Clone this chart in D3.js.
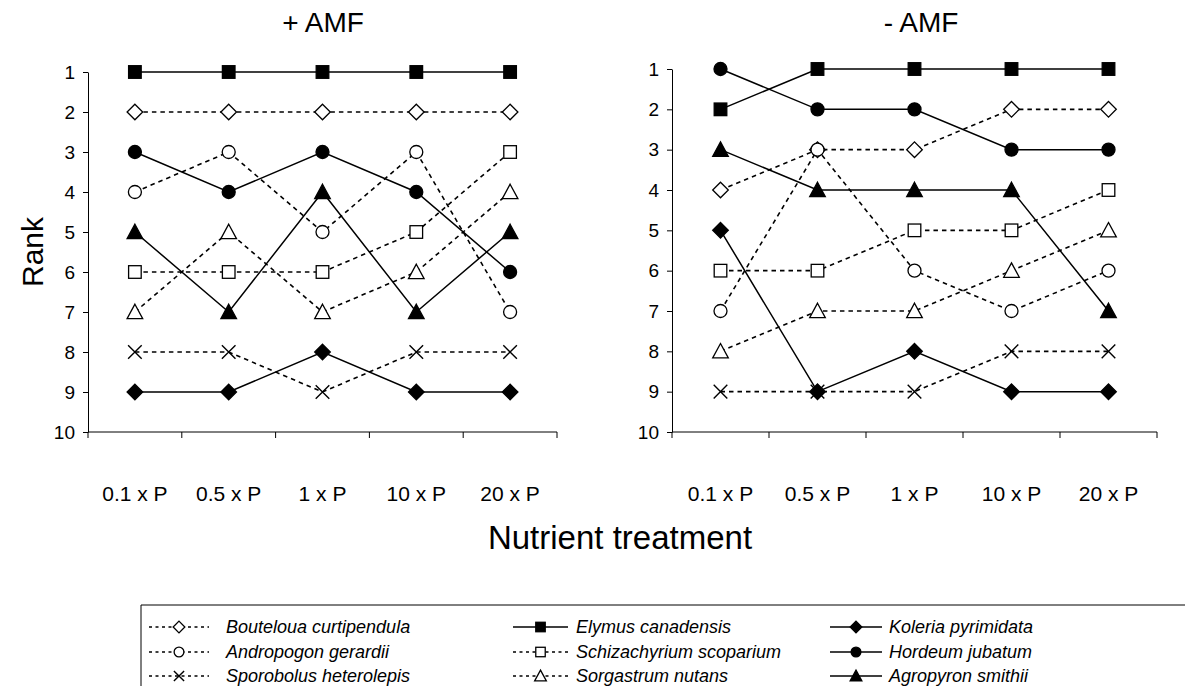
<!DOCTYPE html>
<html>
<head>
<meta charset="utf-8">
<script src="https://cdn.jsdelivr.net/npm/d3@7/dist/d3.min.js"></script>
<style>
  html, body { margin: 0; padding: 0; background: #fff; }
  svg { display: block; font-family: "Liberation Sans", Arial, sans-serif; }
</style>
</head>
<body>
<svg id="chart" width="1198" height="686"></svg>
<script>
// Nutrient treatments along the x axis
const categories = ["0.1 x P", "0.5 x P", "1 x P", "10 x P", "20 x P"];
const rankTicks = [1, 2, 3, 4, 5, 6, 7, 8, 9, 10];

// Species, in legend order (row by row)
const species = [
  "Bouteloua curtipendula", "Elymus canadensis", "Koleria pyrimidata",
  "Andropogon gerardii", "Schizachyrium scoparium", "Hordeum jubatum",
  "Sporobolus heterolepis", "Sorgastrum nutans", "Agropyron smithii"
];

// Rank of each species per treatment, with mycorrhizal fungi (+ AMF)
const ranksPlusAMF = [
  [2, 2, 2, 2, 2],
  [1, 1, 1, 1, 1],
  [9, 9, 8, 9, 9],
  [4, 3, 5, 3, 7],
  [6, 6, 6, 5, 3],
  [3, 4, 3, 4, 6],
  [8, 8, 9, 8, 8],
  [7, 5, 7, 6, 4],
  [5, 7, 4, 7, 5]
];

// Rank of each species per treatment, without mycorrhizal fungi (- AMF)
const ranksMinusAMF = [
  [4, 3, 3, 2, 2],
  [2, 1, 1, 1, 1],
  [5, 9, 8, 9, 9],
  [7, 3, 6, 7, 6],
  [6, 6, 5, 5, 4],
  [1, 2, 2, 3, 3],
  [9, 9, 9, 8, 8],
  [8, 7, 7, 6, 5],
  [3, 4, 4, 4, 7]
];

// Marker shape / fill and line style per species
const styleOf = {
  "Bouteloua curtipendula":  { shape: "diamond",  filled: false, dashed: true },
  "Elymus canadensis":       { shape: "square",   filled: true,  dashed: false },
  "Koleria pyrimidata":      { shape: "diamond",  filled: true,  dashed: false },
  "Andropogon gerardii":     { shape: "circle",   filled: false, dashed: true },
  "Schizachyrium scoparium": { shape: "square",   filled: false, dashed: true },
  "Hordeum jubatum":         { shape: "circle",   filled: true,  dashed: false },
  "Sporobolus heterolepis":  { shape: "cross",    filled: false, dashed: true },
  "Sorgastrum nutans":       { shape: "triangle", filled: false, dashed: true },
  "Agropyron smithii":       { shape: "triangle", filled: true,  dashed: false }
};

const svg = d3.select("#chart");

// Draws one marker centred at (0,0) inside group g
function drawMarker(g, name, scale) {
  const st = styleOf[name];
  const k = scale || 1;
  const fill = st.filled ? "#000" : "#fff";
  const sw = 1.3;
  if (st.shape === "square") {
    const s = 6.3 * k;
    g.append("rect").attr("x", -s).attr("y", -s).attr("width", 2 * s).attr("height", 2 * s)
      .attr("fill", fill).attr("stroke", "#000").attr("stroke-width", sw);
  } else if (st.shape === "diamond") {
    const s = 7.8 * k;
    g.append("path").attr("d", `M0,${-s}L${s},0L0,${s}L${-s},0Z`)
      .attr("fill", fill).attr("stroke", "#000").attr("stroke-width", sw);
  } else if (st.shape === "circle") {
    g.append("circle").attr("r", 6.5 * k)
      .attr("fill", fill).attr("stroke", "#000").attr("stroke-width", sw);
  } else if (st.shape === "triangle") {
    const s = 7.8 * k;
    g.append("path").attr("d", `M0,${-s}L${s},${s * 0.85}L${-s},${s * 0.85}Z`)
      .attr("fill", fill).attr("stroke", "#000").attr("stroke-width", sw);
  } else if (st.shape === "cross") {
    const s = 6.8 * k;
    g.append("path").attr("d", `M${-s},${-s}L${s},${s}M${-s},${s}L${s},${-s}`)
      .attr("fill", "none").attr("stroke", "#000").attr("stroke-width", 1.4);
  }
}

function panel(opts) {
  const { left, right, top, bottom, title, titleX, ranks, showRank } = opts;
  const x = d3.scaleBand().domain(categories).range([left, right]);
  const y = d3.scaleLinear().domain([1, 10]).range([top, bottom]);
  const g = svg.append("g");

  // Title
  g.append("text")
    .attr("x", titleX).attr("y", 32)
    .attr("text-anchor", "middle").attr("font-size", 28)
    .text(title);

  // Y axis (rank increases downward)
  const yAxis = d3.axisLeft(y).tickValues(rankTicks).tickSize(5).tickSizeOuter(0).tickPadding(8);
  const ya = g.append("g").attr("transform", `translate(${left},0)`).call(yAxis);
  ya.selectAll("text").attr("font-size", 19).attr("fill", "#000")
    .style("font-family", "'Liberation Sans', Arial, sans-serif");
  ya.selectAll("path, line").attr("stroke", "#000").attr("stroke-width", 1);

  // X axis: line along rank 10 with tick marks between categories
  const xa = g.append("g");
  xa.append("line").attr("x1", left).attr("x2", right).attr("y1", bottom).attr("y2", bottom)
    .attr("stroke", "#000");
  const edges = categories.map(c => x(c)).concat([x(categories[categories.length - 1]) + x.bandwidth()]);
  xa.selectAll("line.tick").data(edges).join("line")
    .attr("class", "tick")
    .attr("x1", d => d).attr("x2", d => d)
    .attr("y1", bottom).attr("y2", bottom + 6)
    .attr("stroke", "#000");
  xa.selectAll("text").data(categories).join("text")
    .attr("x", d => x(d) + x.bandwidth() / 2)
    .attr("y", bottom + 69)
    .attr("text-anchor", "middle").attr("font-size", 21)
    .text(d => d);

  if (showRank) {
    g.append("text")
      .attr("transform", `translate(${left - 45},${(top + bottom) / 2}) rotate(-90)`)
      .attr("text-anchor", "middle").attr("font-size", 30)
      .text("Rank");
  }

  const line = d3.line()
    .x((d, i) => x(categories[i]) + x.bandwidth() / 2)
    .y(d => y(d));

  // Series lines
  species.forEach((name, si) => {
    const st = styleOf[name];
    g.append("path")
      .datum(ranks[si])
      .attr("d", line)
      .attr("fill", "none")
      .attr("stroke", "#000")
      .attr("stroke-width", st.dashed ? 1.6 : 1.5)
      .attr("stroke-dasharray", st.dashed ? "4.5,4" : null);
  });

  // Markers on top
  species.forEach((name, si) => {
    ranks[si].forEach((r, i) => {
      const mg = g.append("g")
        .attr("transform", `translate(${x(categories[i]) + x.bandwidth() / 2},${y(r)})`);
      drawMarker(mg, name, 1);
    });
  });
}

panel({ left: 88, right: 557, top: 72, bottom: 432, title: "+ AMF", titleX: 323, ranks: ranksPlusAMF, showRank: true });
panel({ left: 672, right: 1157, top: 69, bottom: 432, title: "- AMF", titleX: 921, ranks: ranksMinusAMF, showRank: false });

// Shared x-axis title
svg.append("text")
  .attr("x", 620).attr("y", 549)
  .attr("text-anchor", "middle").attr("font-size", 33)
  .text("Nutrient treatment");

// Legend: three columns, three rows
const legend = svg.append("g");
const boxLeft = 141, boxTop = 605, boxRight = 1185;
legend.append("path")
  .attr("d", `M${boxLeft},686V${boxTop}H${boxRight}`)
  .attr("fill", "none").attr("stroke", "#000").attr("stroke-width", 1);

// Per column: where the line sample starts, its length, and where the label starts
const colLineX = [149, 513, 830];
const colLineLen = [60, 55, 52];
const colTextX = [226, 576, 889];
const rowY = [627, 652, 676];
species.forEach((name, i) => {
  const col = i % 3, row = Math.floor(i / 3);
  const st = styleOf[name];
  const gy = rowY[row];
  const x0 = colLineX[col], len = colLineLen[col];
  legend.append("line")
    .attr("x1", x0).attr("x2", x0 + len).attr("y1", gy).attr("y2", gy)
    .attr("stroke", "#000")
    .attr("stroke-width", st.dashed ? 1.3 : 1.5)
    .attr("stroke-dasharray", st.dashed ? "3,3.5" : null);
  const mg = legend.append("g").attr("transform", `translate(${x0 + len / 2},${gy})`);
  drawMarker(mg, name, 0.75);
  legend.append("text")
    .attr("x", colTextX[col]).attr("y", gy + 6)
    .attr("font-size", 18).attr("font-style", "italic")
    .text(name);
});
</script>
</body>
</html>
